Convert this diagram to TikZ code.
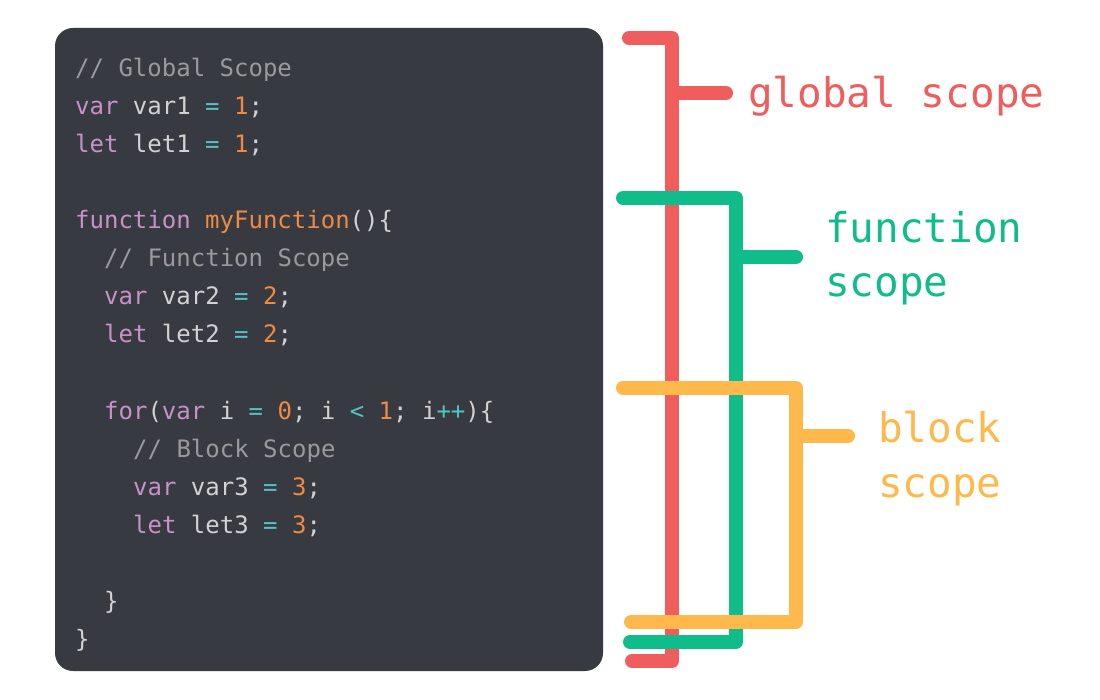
\documentclass[tikz,border=0pt]{standalone}
\usepackage{fontspec}
\newfontfamily\codefont{DejaVu Sans Mono}
\definecolor{bgc}{HTML}{383A42}
\definecolor{kwc}{HTML}{C792C8}
\definecolor{idc}{HTML}{D2D2D2}
\definecolor{cmc}{HTML}{9A9A9A}
\definecolor{opc}{HTML}{56C2C4}
\definecolor{numc}{HTML}{F08A45}
\definecolor{redc}{HTML}{EF5D5D}
\definecolor{grnc}{HTML}{10BD8A}
\definecolor{orac}{HTML}{FFB84C}
\newcommand\ckw[1]{\textcolor{kwc}{#1}}
\newcommand\ccm[1]{\textcolor{cmc}{#1}}
\newcommand\cop[1]{\textcolor{opc}{#1}}
\newcommand\cnum[1]{\textcolor{numc}{#1}}
\begin{document}
\begin{tikzpicture}[x=1pt,y=-1pt,
  codeline/.style={anchor=base west, inner sep=0pt, text=idc,
    font=\codefont\fontsize{24}{28}\selectfont},
  scopelabel/.style={anchor=base west, inner sep=0pt,
    font=\codefont\fontsize{41}{54}\selectfont},
  bracket/.style={line width=14pt, line cap=round, line join=round}]
\useasboundingbox (0,0) rectangle (1100,700);
\fill[bgc, rounded corners=18pt] (55,28) rectangle (603,671);
% code
\node[codeline] (c1) at (75,77) {\ccm{// Global Scope}};
\node[codeline] (c2) at (75,115) {\ckw{var} var1 \cop{=} \cnum{1};};
\node[codeline] (c3) at (75,153) {\ckw{let} let1 \cop{=} \cnum{1};};
\node[codeline] (c5) at (75,229) {\ckw{function} \cnum{myFunction}()\{};
\node[codeline] (c6) at (104,267) {\ccm{// Function Scope}};
\node[codeline] (c7) at (104,305) {\ckw{var} var2 \cop{=} \cnum{2};};
\node[codeline] (c8) at (104,343) {\ckw{let} let2 \cop{=} \cnum{2};};
\node[codeline] (c10) at (104,419) {\ckw{for}(\ckw{var} i \cop{=} \cnum{0}; i \cop{<} \cnum{1}; i\cop{++})\{};
\node[codeline] (c11) at (133,457) {\ccm{// Block Scope}};
\node[codeline] (c12) at (133,495) {\ckw{var} var3 \cop{=} \cnum{3};};
\node[codeline] (c13) at (133,533) {\ckw{let} let3 \cop{=} \cnum{3};};
\node[codeline] (c15) at (104,609) {\}};
\node[codeline] (c16) at (75,647) {\}};
% labels
\node[scopelabel, text=redc] (gl) at (748,108) {global scope};
\node[scopelabel, text=grnc] (fl1) at (825,243) {function};
\node[scopelabel, text=grnc] (fl2) at (825,297) {scope};
\node[scopelabel, text=orac] (bl1) at (878,442) {block};
\node[scopelabel, text=orac] (bl2) at (878,497) {scope};
% bracket coordinates
\coordinate (rA) at (629,38);  \coordinate (rB) at (672,38);
\coordinate (rC) at (672,661); \coordinate (rD) at (632,661);
\coordinate (rS) at (672,93);  \coordinate (rT) at (726,93);
\coordinate (gA) at (623,198); \coordinate (gB) at (736,198);
\coordinate (gC) at (736,642); \coordinate (gD) at (630,642);
\coordinate (gS) at (736,257); \coordinate (gT) at (796,257);
\coordinate (oA) at (623,388); \coordinate (oB) at (796,388);
\coordinate (oC) at (796,622); \coordinate (oD) at (631,622);
\coordinate (oS) at (796,436); \coordinate (oT) at (848,436);
% brackets
\draw[bracket, redc] (rA) -- (rB) -- (rC) -- (rD);
\draw[bracket, redc] (rS) -- (rT);
\draw[bracket, grnc] (gA) -- (gB) -- (gC) -- (gD);
\draw[bracket, grnc] (gS) -- (gT);
\draw[bracket, orac] (oA) -- (oB) -- (oC) -- (oD);
\draw[bracket, orac] (oS) -- (oT);
\end{tikzpicture}
\end{document}
